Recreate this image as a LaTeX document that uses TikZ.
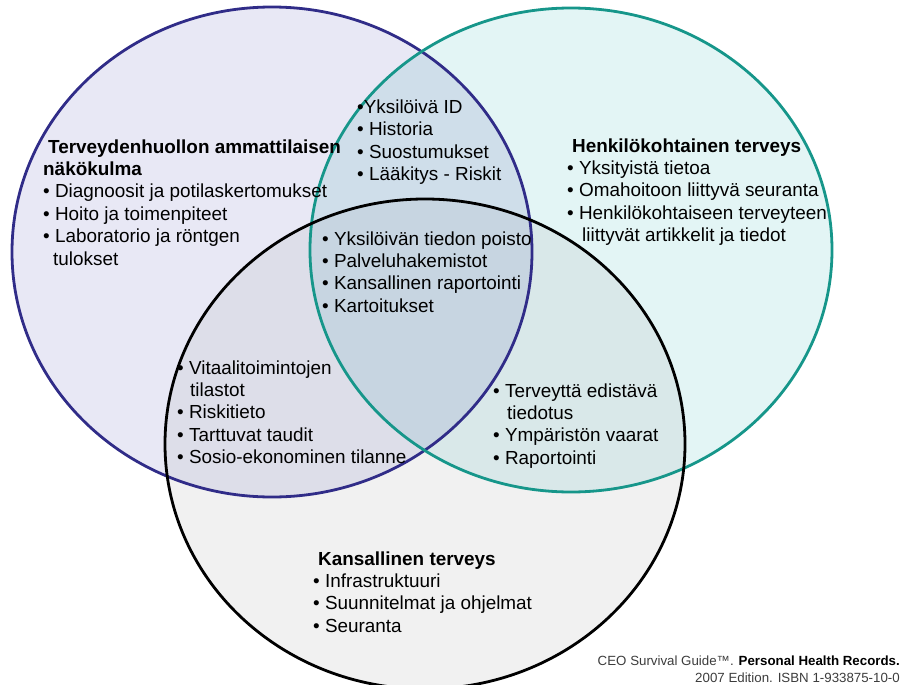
\documentclass[tikz,border=0pt]{standalone}
\usepackage{fontspec}
\setmainfont{Liberation Sans}
\definecolor{bline}{RGB}{48,44,136}
\definecolor{tline}{RGB}{22,150,138}
\definecolor{bfill}{RGB}{232,232,245}
\definecolor{tfill}{RGB}{227,245,245}
\definecolor{kfill}{RGB}{241,241,241}
\definecolor{btfill}{RGB}{207,222,234}
\definecolor{bkfill}{RGB}{221,222,233}
\definecolor{tkfill}{RGB}{217,232,233}
\definecolor{allfill}{RGB}{199,213,225}
\definecolor{foot}{RGB}{60,60,60}
\tikzset{
  txt/.style={anchor=base west, inner sep=0pt, font=\fontsize{18.9}{22.4}\selectfont},
  foottxt/.style={anchor=base east, inner sep=0pt, font=\fontsize{13.3}{17}\selectfont},
  ring/.style={line width=2.8pt}
}
\newcommand{\bluepath}{(272,252) ellipse [x radius=260pt, y radius=245pt]}
\newcommand{\tealpath}{(571,250) ellipse [x radius=261pt, y radius=242pt]}
\newcommand{\blackpath}{(425,444) ellipse [x radius=260pt, y radius=245pt]}
\begin{document}
\begin{tikzpicture}[x=1pt,y=-1pt]
\useasboundingbox (0,0) rectangle (902,685);
% fills
\fill[bfill] \bluepath;
\fill[tfill] \tealpath;
\fill[kfill] \blackpath;
\begin{scope}
  \clip \bluepath;
  \fill[btfill] \tealpath;
  \fill[bkfill] \blackpath;
\end{scope}
\begin{scope}
  \clip \tealpath;
  \fill[tkfill] \blackpath;
\end{scope}
\begin{scope}
  \clip \bluepath;
  \clip \tealpath;
  \fill[allfill] \blackpath;
\end{scope}
% outlines
\draw[ring, bline] \bluepath;
\draw[ring, tline] \tealpath;
\draw[ring, black] \blackpath;
% texts
\node[txt] (prof) at (43,153) {\begin{tabular}[t]{@{}l@{}}
\hspace*{5pt}\textbf{Terveydenhuollon ammattilaisen}\\
\textbf{näkökulma}\\
• Diagnoosit ja potilaskertomukset\\
• Hoito ja toimenpiteet\\
• Laboratorio ja röntgen\\
\hspace*{10pt}tulokset
\end{tabular}};
\node[txt] (top) at (357,113.5) {\begin{tabular}[t]{@{}l@{}}
•Yksilöivä ID\\
• Historia\\
• Suostumukset\\
• Lääkitys - Riskit
\end{tabular}};
\node[txt] (pers) at (567,152) {\begin{tabular}[t]{@{}l@{}}
\hspace*{5pt}\textbf{Henkilökohtainen terveys}\\
• Yksityistä tietoa\\
• Omahoitoon liittyvä seuranta\\
• Henkilökohtaiseen terveyteen\\
\hspace*{15pt}liittyvät artikkelit ja tiedot
\end{tabular}};
\node[txt] (center) at (322,245) {\begin{tabular}[t]{@{}l@{}}
• Yksilöivän tiedon poisto\\
• Palveluhakemistot\\
• Kansallinen raportointi\\
• Kartoitukset
\end{tabular}};
\node[txt] (left) at (177,374) {\begin{tabular}[t]{@{}l@{}}
• Vitaalitoimintojen\\
\hspace*{13pt}tilastot\\
• Riskitieto\\
• Tarttuvat taudit\\
• Sosio-ekonominen tilanne
\end{tabular}};
\node[txt] (right) at (493,397) {\begin{tabular}[t]{@{}l@{}}
• Terveyttä edistävä\\
\hspace*{14pt}tiedotus\\
• Ympäristön vaarat\\
• Raportointi
\end{tabular}};
\node[txt] (nat) at (313,565) {\begin{tabular}[t]{@{}l@{}}
\hspace*{5pt}\textbf{Kansallinen terveys}\\
• Infrastruktuuri\\
• Suunnitelmat ja ohjelmat\\
• Seuranta
\end{tabular}};
\node[foottxt] (foot) at (900,665) {\begin{tabular}[t]{@{}r@{}}
{\color{foot}CEO Survival Guide™. }\textbf{Personal Health Records.}\\
{\color{foot}2007 Edition. ISBN 1-933875-10-0}
\end{tabular}};
\end{tikzpicture}
\end{document}
